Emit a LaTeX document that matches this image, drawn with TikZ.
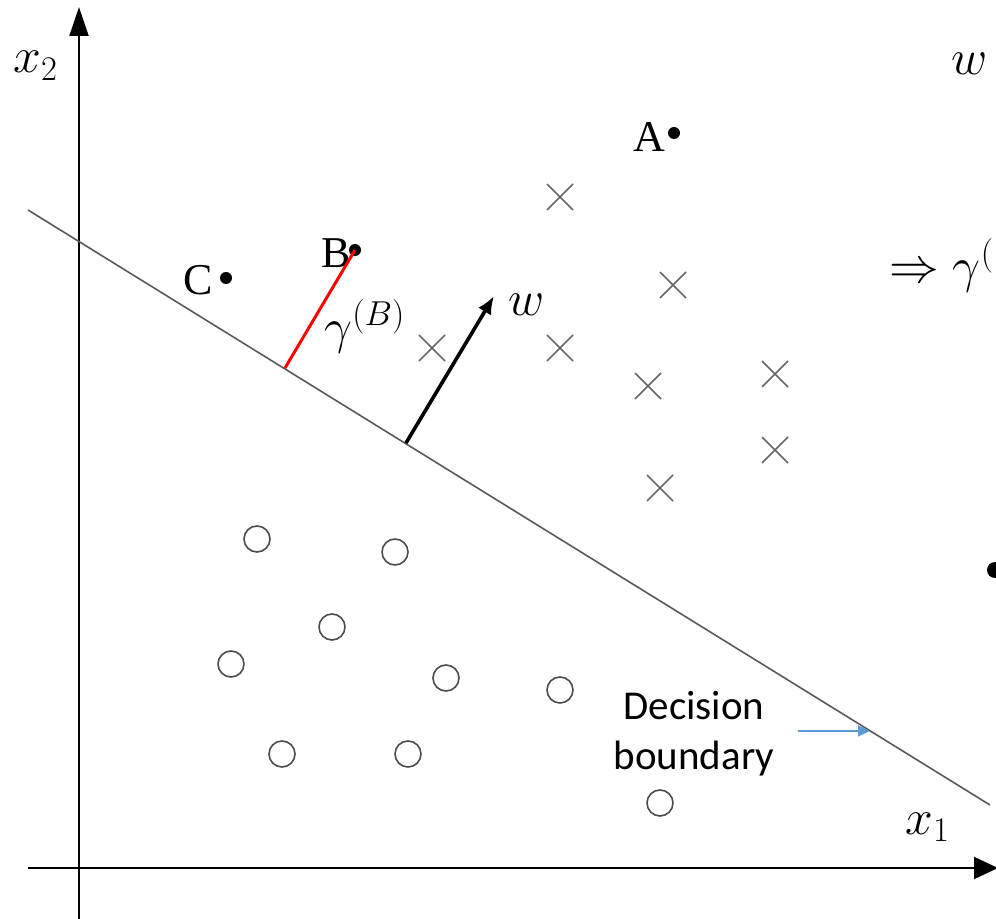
\documentclass[tikz,border=0pt]{standalone}
\usepackage{amsmath}
\usepackage{amssymb}
\usepackage{fontspec}
\newfontfamily\boxfont{Carlito}
\newfontfamily\pointfont{Liberation Serif}
\usetikzlibrary{arrows.meta}
\definecolor{officeblue}{HTML}{5B9BD5}

\begin{document}
\begin{tikzpicture}[x=0.5pt,y=-0.5pt]
		\tikzset{dot/.style={circle,fill=black,inner sep=0pt,minimum size=6pt},
			ptlabel/.style={anchor=base west,inner sep=0pt,font=\pointfont\fontsize{22}{26}\selectfont},
			mathlabel/.style={anchor=base west,inner sep=0pt,font=\fontsize{#1}{#1}\selectfont},
			crossline/.style={black!60,line width=0.8pt},
			ringline/.style={black!70,line width=0.8pt}};
		\useasboundingbox (0,0) rectangle (996,919);
		\clip (0,0) rectangle (996,919);
		% axes
		\coordinate (ybot) at (79,919);
		\coordinate (ytop) at (79,7);
		\coordinate (xleft) at (28,868);
		\coordinate (xright) at (998,868);
		\draw[line width=1pt,-{Triangle[length=14.5pt,width=9.5pt]}] (ybot)--(ytop);
		\draw[line width=1pt,-{Triangle[length=12pt,width=11pt]}] (xleft)--(xright);
		\node[mathlabel=25] (x2) at (13,73) {$x_2$};
		\node[mathlabel=25] (x1) at (905,834) {$x_1$};
		% decision boundary
		\coordinate (bstart) at (28,210);
		\coordinate (bend) at (990,805);
		\draw[black!65,line width=0.8pt] (bstart)--(bend);
		% points A, B, C
		\node[dot] (A) at (674,133) {};
		\node[dot] (B) at (355,250) {};
		\node[dot] (C) at (226,278) {};
		\node[ptlabel] (Alab) at (633,152) {A};
		\node[ptlabel] (Blab) at (321,268) {B};
		\node[ptlabel] (Clab) at (183,295) {C};
		% margin of B and normal vector
		\coordinate (footB) at (285,368);
		\coordinate (footw) at (406,443);
		\coordinate (tipw) at (494,296);
		\draw[red,line width=1.5pt] (footB)--(B.center);
		\node[mathlabel=25] (gamB) at (324,344) {$\gamma^{(B)}$};
		\draw[line width=1.8pt,-{Latex[length=9pt,width=7.5pt]}] (footw)--(tipw);
		\node[mathlabel=26] (wlab) at (508,316) {$w$};
		% positive samples
		\foreach \px/\py in {560/197,673/285,432/348,560/348,648/386,775/374,775/450,660/488}
			\draw[crossline] (\px-13,\py-13)--(\px+13,\py+13) (\px-13,\py+13)--(\px+13,\py-13);
		% negative samples
		\foreach \px/\py in {257/539,395/552,332/627,231/664,446/678,560/690,282/754,408/754,660/803}
			\draw[ringline] (\px,\py) circle (13);
		% legend
		\node[inner sep=0pt,align=center,font=\boxfont\fontsize{20.5}{25}\selectfont] (dec) at (694,734) {Decision\\boundary};
		\coordinate (decend) at (870,731);
		\draw[officeblue,line width=0.6pt,-{Triangle[length=6pt,width=5.5pt]}] (798,731)--(decend);
		% cut-off text at the right edge
		\node[mathlabel=27] (wT) at (951,75) {$w$};
		\node[mathlabel=26.5] (gam) at (889,283) {$\Rightarrow\gamma^{(}$};
		\node[dot,minimum size=8pt] (rdot) at (995,570) {};
	\end{tikzpicture}
\end{document}
